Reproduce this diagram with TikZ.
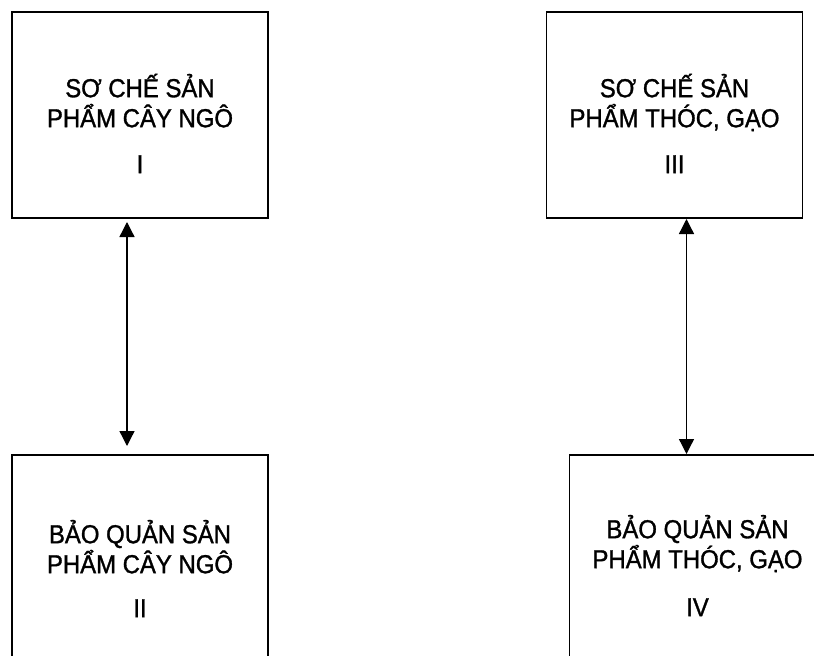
\documentclass[tikz,border=0pt]{standalone}
\usepackage{fontspec}
\setmainfont{Liberation Sans}[FakeStretch=0.92, FakeBold=1.2]
\usetikzlibrary{arrows.meta,calc}

\tikzset{
  stagebox/.style={draw=black, line width=1.8pt, rectangle, inner sep=0pt, outer sep=0pt,
    minimum width=256pt, minimum height=206pt},
  stagetext/.style={anchor=north, align=center, inner sep=0pt,
    font=\fontsize{26}{30}\selectfont},
  link/.style={line width=1.3pt, {Triangle[width=15pt,length=15pt]}-{Triangle[width=15pt,length=15pt]}}
}

\newcommand{\firstline}{\rule{0pt}{30pt}}

\begin{document}
\begin{tikzpicture}[x=1pt,y=-1pt]
  \useasboundingbox (0,0) rectangle (814,656);
  \clip (0,0) rectangle (814,656);

  % stage boxes
  \node[stagebox] (b1) at (140,115) {};
  \node[stagebox] (b2) at (140,558) {};
  \node[stagebox] (b3) at (674.5,115) {};
  \node[stagebox] (b4) at (697.5,558) {};

  % captions
  \node[stagetext] (t1) at (140,67) {\firstline SƠ CHẾ SẢN\\PHẨM CÂY NGÔ\\[16pt]I};
  \node[stagetext] (t2) at (140,513) {\firstline BẢO QUẢN SẢN\\PHẨM CÂY NGÔ\\[14pt]II};
  \node[stagetext] (t3) at (674.5,67) {\firstline SƠ CHẾ SẢN\\PHẨM THÓC, GẠO\\[16pt]III};
  \node[stagetext] (t4) at (697.5,508) {\firstline BẢO QUẢN SẢN\\PHẨM THÓC, GẠO\\[18pt]IV};

  % two-way links between stages
  \coordinate (l1) at ($(b1.south west)+(115,0)$);
  \draw[link, shorten <=4pt, shorten >=9pt] (l1) -- (l1 |- b2.north);
  \coordinate (l2) at ($(b3.south west)+(140,0)$);
  \draw[link, shorten <=1pt, shorten >=1pt] (l2) -- (l2 |- b4.north);
\end{tikzpicture}
\end{document}
